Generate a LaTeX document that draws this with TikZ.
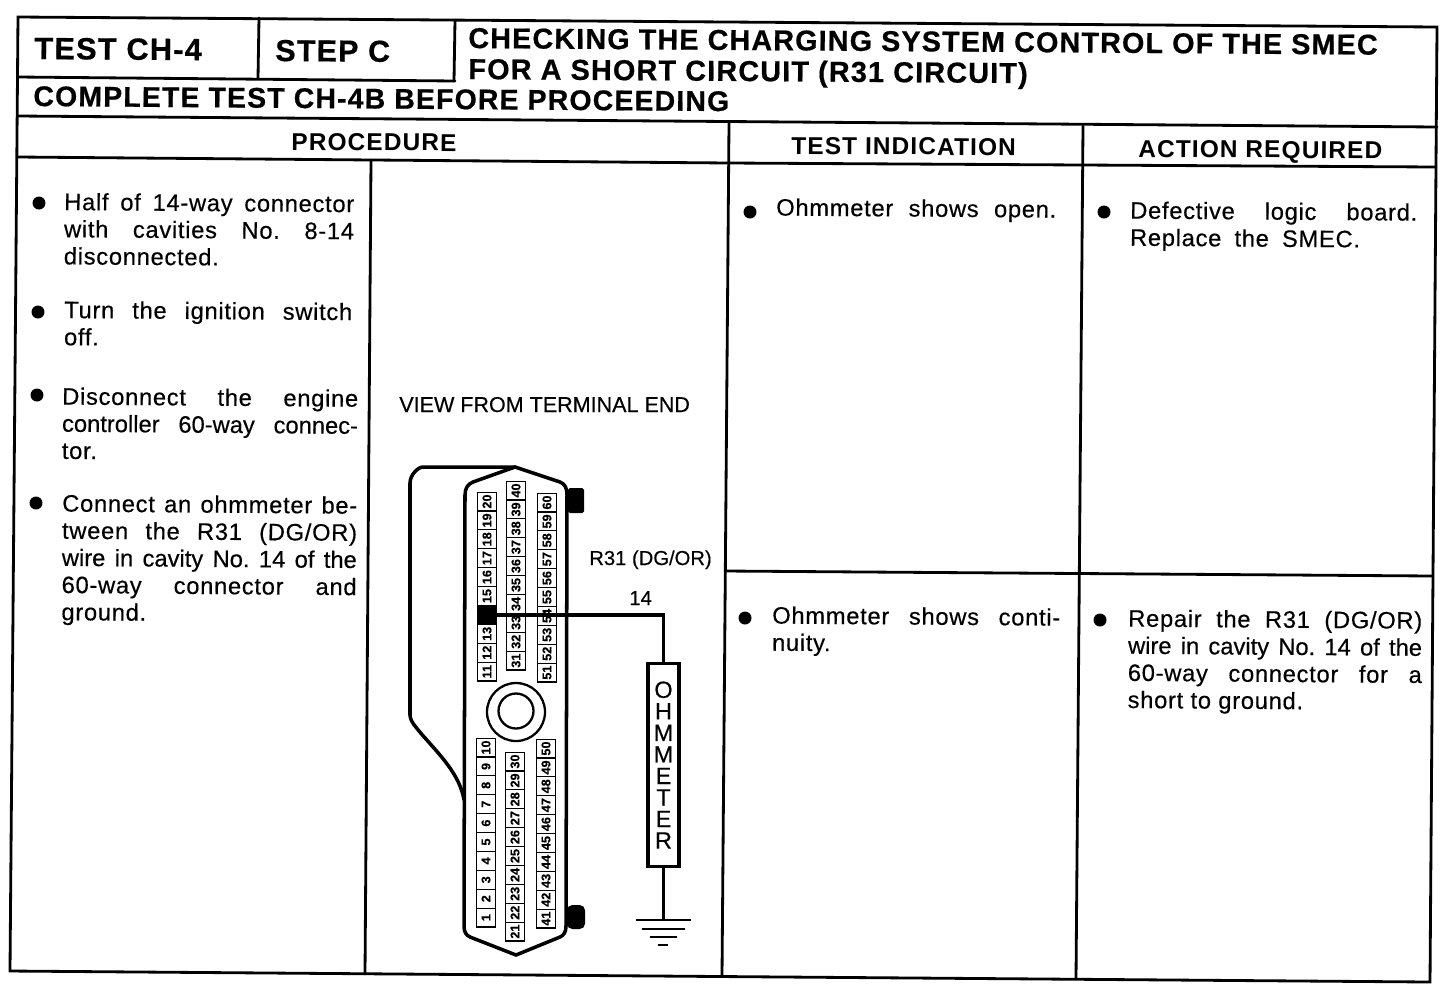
\documentclass[tikz,border=0pt]{standalone}
\usepackage{fontspec}
\setmainfont{Liberation Sans}
\newfontfamily\headfont[LetterSpace=4,FakeBold=0.6]{Liberation Sans Bold}
\newfontfamily\colfont[LetterSpace=4.6]{Liberation Sans Bold}
\newfontfamily\bodyfont[FakeBold=0.4,LetterSpace=3]{Liberation Sans}
\newfontfamily\tightfont[FakeBold=0.4]{Liberation Sans}
\newfontfamily\cellfont[FakeBold=0.5]{Liberation Sans Bold}
\tikzset{
  rule/.style={line width=1.6pt,line cap=round},
  heading/.style={anchor=base west,inner sep=0,rotate=-0.42,font=\headfont\fontsize{#1}{#1}\selectfont},
  colhead/.style={anchor=base west,inner sep=0,rotate=-0.42,font=\colfont\fontsize{13.9}{14}\selectfont},
  para/.style={anchor=north west,inner sep=0,rotate=-0.42,align=justify,text width=#1*0.02cm,
    font=\bodyfont\frenchspacing\fontsize{13.5}{15.45}\selectfont},
  label/.style={anchor=base west,inner sep=0,font=\tightfont\fontsize{#1}{#1}\selectfont},
  bullet/.style={circle,fill=black,inner sep=0,minimum size=0.26cm},
  cavity/.style={draw,rotate=90,inner sep=0,line width=0.6pt,minimum width=0.375cm,minimum height=0.365cm,
    fill=white,font=\cellfont\fontsize{7.2}{7.2}\selectfont},
}
\begin{document}
\begin{tikzpicture}[x=0.02cm,y=-0.02cm]
  \useasboundingbox (0,0) rectangle (1456,1002);

  \draw[rule] (18,17) -- (1437,27) -- (1430,982) -- (10,971) -- cycle;
  \draw[rule] (18,77) -- (455,81);
  \draw[rule] (259,18) -- (258,78);
  \draw[rule] (455,20) -- (454,81);
  \draw[rule] (18,116) -- (1437,127);
  \draw[rule] (18,157) -- (729,163) -- (1436,167);
  \draw[rule] (729,123) -- (722,976);
  \draw[rule] (1083,126) -- (1076,979);
  \draw[rule] (371,160) -- (365,974);
  \draw[rule] (725.3,571) -- (1433,576);

  \node[heading=17.5] (testno) at (34,59) {TEST CH-4};
  \node[heading=17.3] (stepno) at (275,61) {STEP C};
  \node[heading=16.35] (titlea) at (468,48) {CHECKING THE CHARGING SYSTEM CONTROL OF THE SMEC};
  \node[heading=16.4] (titleb) at (468,79) {FOR A SHORT CIRCUIT (R31 CIRCUIT)};
  \node[heading=16.2] (before) at (33,106) {COMPLETE TEST CH-4B BEFORE PROCEEDING};
  \node[colhead] (procedure) at (291,150) {PROCEDURE};
  \node[colhead] (indication) at (791,154) {TEST INDICATION};
  \node[colhead] (action) at (1138,157) {ACTION REQUIRED};

  \node[bullet] (ba) at (39,203) {};
  \node[bullet] (bb) at (38,312) {};
  \node[bullet] (bc) at (37,395) {};
  \node[bullet] (bd) at (36,503) {};
  \node[bullet] (be) at (750,212) {};
  \node[bullet] (bf) at (1104,212) {};
  \node[bullet] (bg) at (745,618) {};
  \node[bullet] (bh) at (1100,620) {};

  \node[para=290] (pa) at (64,192.5) {Half of 14-way connector\linebreak with cavities No. 8-14\linebreak disconnected.};
  \node[para=288] (pb) at (64,300.5) {Turn the ignition switch\linebreak off.};
  \node[para=296] (pc) at (62,387) {Disconnect the engine\linebreak {\tightfont controller 60-way connec-}\linebreak tor.};
  \node[para=295] (pd) at (62,494) {Connect an ohmmeter be-\linebreak tween the R31 (DG/OR)\linebreak {\tightfont wire in cavity No. 14 of the}\linebreak 60-way connector and\linebreak ground.};
  \node[para=280] (pe) at (776,198) {Ohmmeter shows open.\linebreak};
  \node[para=287] (pf) at (1130,201) {Defective logic board.\linebreak \makebox[4.6cm][s]{Replace the SMEC.}};
  \node[para=288] (pg) at (772,606) {Ohmmeter shows conti-\linebreak nuity.};
  \node[para=294] (ph) at (1128,609) {Repair the R31 (DG/OR)\linebreak {\tightfont wire in cavity No. 14 of the}\linebreak 60-way connector for a\linebreak short to ground.};

  \node[label=12.25] (viewfrom) at (399,412) {VIEW FROM TERMINAL END};
  \node[label=11.5] (wirename) at (589,565) {R31 (DG/OR)};
  \node[label=11.5] (wireno) at (629,605) {14};

  \draw[line width=2pt,rounded corners=4pt] (464,800) .. controls (460,775) and (440,755) .. (418,730)
    .. controls (412,722) and (410,718) .. (410,708) -- (410,490)
    .. controls (410,475) and (418,467) .. (430,467) -- (515,467);
  \draw[line width=2pt,fill=white] (465,495) .. controls (465,488) and (468,484) .. (473,482) -- (515,467) -- (560,482)
    .. controls (565,484) and (567,488) .. (567,495) -- (566,926)
    .. controls (566,932) and (564,935) .. (560,937) -- (516,955) -- (470,937)
    .. controls (466,935) and (464,932) .. (464,926) -- cycle;
  \fill[rounded corners=1pt] (568,488) rectangle (584,513);
  \fill[rounded corners=3pt] (567,905) rectangle (585,929);
  \draw[line width=1.3pt] (516,712) circle (29);
  \draw[line width=1.3pt] (516,711) circle (17.5);

  \foreach \x/\ytop/\first in {487/492/20,516/481/40,547/493/60,486/738/10,515/752/30,546/739/50}
    \foreach \i in {0,...,9} {
      \pgfmathtruncatemacro{\num}{\first-\i}
      \node[cavity] (cav\num) at ({\x},{\ytop+18.9*\i+9.5}) {\num};
    }
  \fill (cav14.south west) rectangle (cav14.north east);

  \node[draw,line width=1.9pt,inner sep=0,minimum width=0.62cm,minimum height=4.06cm,align=center,
    font=\tightfont\fontsize{13.4}{12.25}\selectfont] (ohmmeter) at (663.5,765) {O\\H\\M\\M\\E\\T\\E\\R};
  \draw[line width=2.1pt] (cav14.center) -| (ohmmeter.north);

  \coordinate (gnda) at (663.5,920);
  \draw[line width=2.1pt] (ohmmeter.south) -- (gnda);
  \draw[line width=1.5pt] (636,920) -- (691,920);
  \draw[line width=1.5pt] (642,929) -- (685,929);
  \draw[line width=1.5pt] (650,937) -- (677,937);
  \draw[line width=1.5pt] (658,945) -- (668,945);
\end{tikzpicture}
\end{document}
